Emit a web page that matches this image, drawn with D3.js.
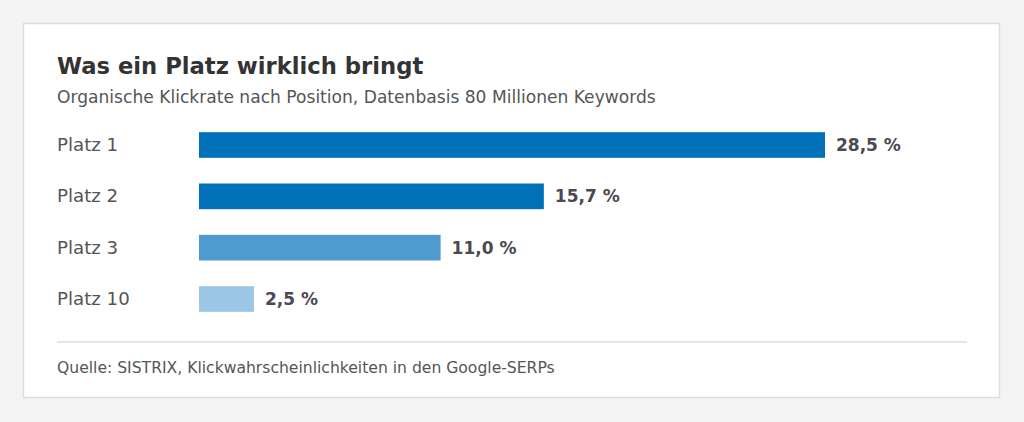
<!DOCTYPE html>
<html>
<head>
<meta charset="utf-8">
<script src="https://cdn.jsdelivr.net/npm/d3@7"></script>
<style>
  body { margin: 0; background: #f3f3f3; font-family: "DejaVu Sans", sans-serif; }
</style>
</head>
<body>
<div id="chart"></div>
<script>
const places = ["Platz 1", "Platz 2", "Platz 3", "Platz 10"];
const ctr = [28.5, 15.7, 11.0, 2.5];
const barColors = ["#0071b9", "#0071b9", "#4d9bd0", "#9cc6e5"];

const width = 1024;
const height = 422;

const svg = d3.select("#chart").append("svg")
  .attr("width", width)
  .attr("height", height);

// card
svg.append("rect")
  .attr("x", 23.5).attr("y", 23.5)
  .attr("width", 976).attr("height", 374)
  .attr("fill", "#fff")
  .attr("stroke", "#dddddd")
  .attr("stroke-width", 1.5);

svg.append("text")
  .attr("x", 57).attr("y", 74)
  .attr("font-size", "22.7px")
  .attr("font-weight", "bold")
  .attr("fill", "#333333")
  .text("Was ein Platz wirklich bringt");

svg.append("text")
  .attr("x", 57).attr("y", 103)
  .attr("font-size", "17.1px")
  .attr("fill", "#555555")
  .text("Organische Klickrate nach Position, Datenbasis 80 Millionen Keywords");

const x = d3.scaleLinear()
  .domain([0, 28.5])
  .range([199, 825]);

const y = d3.scaleBand()
  .domain(places)
  .range([106.5, 337.5])
  .padding(0.5);

const rows = places.map((p, i) => ({ place: p, value: ctr[i], color: barColors[i] }));

const fmt = v => d3.format(".1f")(v).replace(".", ",") + " %";

const g = svg.append("g");

g.selectAll(".label")
  .data(rows)
  .join("text")
  .attr("class", "label")
  .attr("x", 57)
  .attr("y", d => y(d.place) + y.bandwidth() / 2)
  .attr("dy", "0.33em")
  .attr("font-size", "18.2px")
  .attr("fill", "#555555")
  .text(d => d.place);

g.selectAll(".bar")
  .data(rows)
  .join("rect")
  .attr("class", "bar")
  .attr("x", x(0))
  .attr("y", d => y(d.place))
  .attr("width", d => x(d.value) - x(0))
  .attr("height", y.bandwidth())
  .attr("fill", d => d.color);

g.selectAll(".value")
  .data(rows)
  .join("text")
  .attr("class", "value")
  .attr("x", d => x(d.value) + 11)
  .attr("y", d => y(d.place) + y.bandwidth() / 2)
  .attr("dy", "0.35em")
  .attr("font-size", "17px")
  .attr("font-weight", "bold")
  .attr("fill", "#4a4a52")
  .text(d => fmt(d.value));

svg.append("line")
  .attr("x1", 57).attr("x2", 967)
  .attr("y1", 342).attr("y2", 342)
  .attr("stroke", "#dddddd")
  .attr("stroke-width", 1.5);

svg.append("text")
  .attr("x", 57).attr("y", 373)
  .attr("font-size", "15.6px")
  .attr("fill", "#555555")
  .text("Quelle: SISTRIX, Klickwahrscheinlichkeiten in den Google-SERPs");
</script>
</body>
</html>
